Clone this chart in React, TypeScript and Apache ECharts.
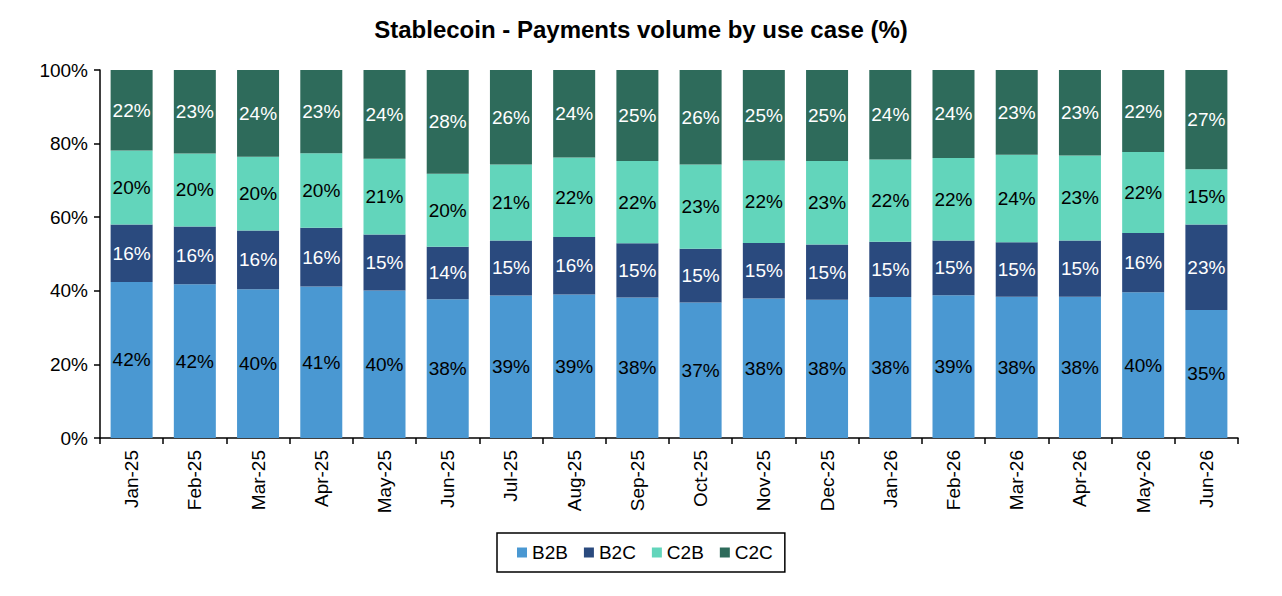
import React, { useEffect, useRef } from "react";
import * as echarts from "echarts";

const categories = [
  "Jan-25", "Feb-25", "Mar-25", "Apr-25", "May-25", "Jun-25",
  "Jul-25", "Aug-25", "Sep-25", "Oct-25", "Nov-25", "Dec-25",
  "Jan-26", "Feb-26", "Mar-26", "Apr-26", "May-26", "Jun-26",
];
const b2b = [42.4, 41.8, 40.4, 41.2, 40.1, 37.7, 38.7, 39.0, 38.2, 36.8, 37.9, 37.6, 38.3, 38.8, 38.4, 38.4, 39.6, 34.8];
const b2c = [15.6, 15.7, 16.0, 15.9, 15.2, 14.3, 15.0, 15.6, 14.7, 14.6, 15.1, 15.0, 15.0, 14.9, 14.8, 15.3, 16.1, 23.2];
const c2b = [20.1, 19.8, 20.0, 20.3, 20.6, 19.8, 20.6, 21.6, 22.4, 22.9, 22.4, 22.7, 22.4, 22.4, 23.8, 23.1, 22.0, 15.0];
const c2c = [21.9, 22.7, 23.6, 22.6, 24.1, 28.2, 25.7, 23.8, 24.7, 25.7, 24.6, 24.7, 24.3, 23.9, 23.0, 23.2, 22.3, 27.0];
const yTicks = [0, 20, 40, 60, 80, 100];

const FONT = "Liberation Sans, Arial, sans-serif";

export default function App() {
  const ref = useRef<HTMLDivElement>(null);
  useEffect(() => {
    if (!ref.current) return;
    const chart = echarts.init(ref.current, undefined, { renderer: "svg" });
    const mk = (name: string, data: number[], color: string, labelColor: string) => ({
      name,
      type: "bar",
      stack: "total",
      data,
      barWidth: 42,
      itemStyle: { color },
      label: {
        show: true,
        position: "inside",
        color: labelColor,
        fontSize: 19,
        fontFamily: FONT,
        formatter: (p: any) => Math.round(p.value) + "%",
      },
    });
    chart.setOption({
      animation: false,
      textStyle: { fontFamily: FONT },
      title: {
        text: "Stablecoin - Payments volume by use case (%)",
        left: "center",
        top: 12,
        textStyle: { fontSize: 24, fontWeight: "bold", color: "#000", fontFamily: FONT },
      },
      legend: {
        top: 533,
        left: 497,
        itemWidth: 10,
        itemHeight: 10,
        itemGap: 16,
        icon: "rect",
        borderColor: "#000",
        borderWidth: 1.5,
        borderRadius: 0,
        padding: [10, 12, 10, 20],
        textStyle: { fontSize: 19, color: "#000", fontFamily: FONT },
        data: ["B2B", "B2C", "C2B", "C2C"],
      },
      grid: { left: 100, right: 44, top: 70, bottom: 158, containLabel: false },
      xAxis: {
        type: "category",
        data: categories,
        axisLine: { lineStyle: { color: "#000", width: 1.5 } },
        axisTick: { show: true, alignWithLabel: false, length: 6, lineStyle: { color: "#000", width: 1.5 } },
        axisLabel: { rotate: 90, color: "#000", fontSize: 19, margin: 12, fontFamily: FONT },
      },
      yAxis: {
        type: "value",
        min: yTicks[0],
        max: yTicks[yTicks.length - 1],
        interval: 20,
        splitLine: { show: false },
        axisLine: { show: true, lineStyle: { color: "#000", width: 1.5 } },
        axisTick: { show: true, length: 6, lineStyle: { color: "#000", width: 1.5 } },
        axisLabel: { color: "#000", fontSize: 19, margin: 12, formatter: (v: number) => v + "%", fontFamily: FONT },
      },
      series: [
        mk("B2B", b2b, "#4a98d2", "#000"),
        mk("B2C", b2c, "#2a4a7e", "#fff"),
        mk("C2B", c2b, "#62d5bb", "#000"),
        mk("C2C", c2c, "#2e6b5b", "#fff"),
      ],
    });
    return () => chart.dispose();
  }, []);
  return (
    <div
      ref={ref}
      style={{ position: "fixed", left: 0, top: 0, width: 1282, height: 596, background: "#fff" }}
    />
  );
}
